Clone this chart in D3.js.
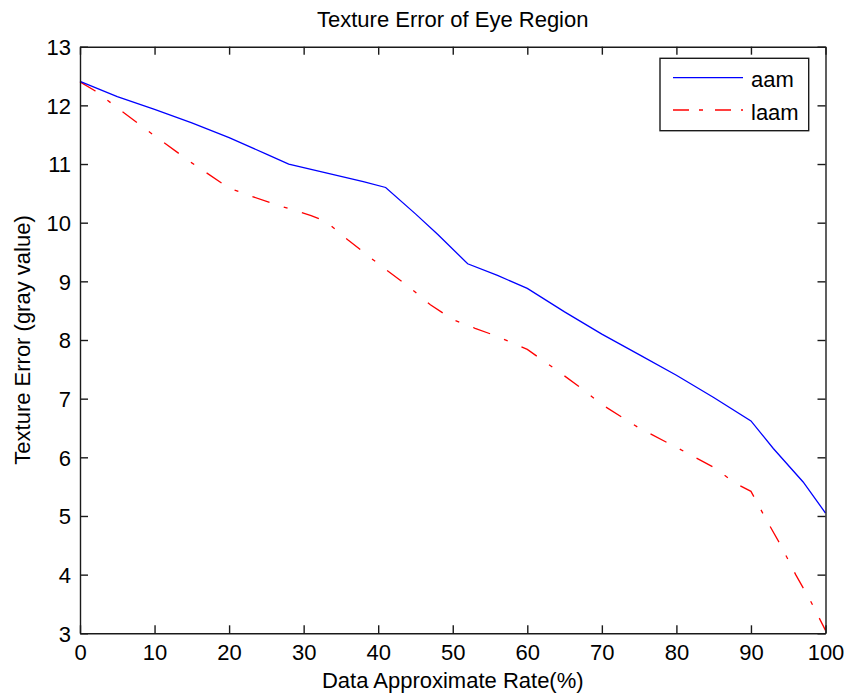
<!DOCTYPE html>
<html>
<head>
<meta charset="utf-8">
<script src="https://cdn.jsdelivr.net/npm/d3@7/dist/d3.min.js"></script>
<style>
  html, body { margin: 0; padding: 0; background: #fff; }
  svg { display: block; }
  text { font-family: "Liberation Sans", Arial, sans-serif; fill: #000; }
</style>
</head>
<body>
<svg id="chart" width="846" height="697"></svg>
<script>
// Texture error of the eye region vs. data approximate rate
const aamRate  = [0, 5, 10, 15, 20, 25, 28, 33, 38, 41, 45, 48, 52, 56, 60, 65, 70, 75, 80, 85, 90, 93, 97, 100];
const aamError = [12.41, 12.15, 11.93, 11.70, 11.45, 11.17, 11.0, 10.85, 10.70, 10.6, 10.15, 9.8, 9.3, 9.1, 8.88, 8.48, 8.1, 7.75, 7.4, 7.02, 6.62, 6.15, 5.58, 5.05];

const laamRate  = [0, 2, 5, 10, 15, 20, 23, 27, 31, 33, 36, 40, 44, 47, 50, 53, 56, 60, 64, 67, 70, 75, 80, 85, 88, 90, 92, 94, 96, 98, 100];
const laamError = [12.4, 12.25, 11.96, 11.48, 11.02, 10.59, 10.45, 10.28, 10.12, 10.02, 9.7, 9.3, 8.92, 8.6, 8.35, 8.2, 8.06, 7.84, 7.48, 7.2, 6.9, 6.5, 6.17, 5.83, 5.55, 5.42, 4.95, 4.5, 4.0, 3.55, 3.05];

const xTicks = [0, 10, 20, 30, 40, 50, 60, 70, 80, 90, 100];
const yTicks = [3, 4, 5, 6, 7, 8, 9, 10, 11, 12, 13];

const seriesNames = ["aam", "laam"];
const titleText = "Texture Error of Eye Region";
const xLabelText = "Data Approximate Rate(%)";
const yLabelText = "Texture Error (gray value)";

const svg = d3.select("#chart");
const W = 846, H = 697;
const plotL = 80, plotR = 825.5, plotT = 46.7, plotB = 633.3;
const fontSize = 22;
const tickLen = 8;

svg.append("rect").attr("width", W).attr("height", H).attr("fill", "#fff");

const x = d3.scaleLinear().domain([0, 100]).range([plotL, plotR]);
const y = d3.scaleLinear().domain([3, 13]).range([plotB, plotT]);

const axisColor = "#1a1a1a";

// Data lines
const line = d3.line().x(d => x(d[0])).y(d => y(d[1]));
const aamPts = aamRate.map((r, i) => [r, aamError[i]]);
const laamPts = laamRate.map((r, i) => [r, laamError[i]]);

const plot = svg.append("g");
plot.append("path").datum(laamPts)
  .attr("d", line).attr("fill", "none")
  .attr("stroke", "#ff0000").attr("stroke-width", 1.3)
  .attr("stroke-dasharray", "18,15,4,15");
plot.append("path").datum(aamPts)
  .attr("d", line).attr("fill", "none")
  .attr("stroke", "#0000ff").attr("stroke-width", 1.3);

// Axes: bottom and left with labels, top and right as box ticks, all inward
const fmt = d3.format("d");
const gx = svg.append("g").attr("transform", `translate(0,${plotB})`)
  .call(d3.axisBottom(x).tickValues(xTicks).tickFormat(fmt).tickSizeInner(-tickLen).tickSizeOuter(0).tickPadding(tickLen + 10));
const gy = svg.append("g").attr("transform", `translate(${plotL},0)`)
  .call(d3.axisLeft(y).tickValues(yTicks).tickFormat(fmt).tickSizeInner(-tickLen).tickSizeOuter(0).tickPadding(8));
const gt = svg.append("g").attr("transform", `translate(0,${plotT})`)
  .call(d3.axisTop(x).tickValues(xTicks).tickFormat("").tickSizeInner(-tickLen).tickSizeOuter(0));
const gr = svg.append("g").attr("transform", `translate(${plotR},0)`)
  .call(d3.axisRight(y).tickValues(yTicks).tickFormat("").tickSizeInner(-tickLen).tickSizeOuter(0));

[gx, gy, gt, gr].forEach(g => {
  g.select(".domain").attr("stroke", axisColor).attr("stroke-width", 1.4);
  g.selectAll(".tick line").attr("stroke", axisColor).attr("stroke-width", 1.4);
  g.selectAll(".tick text")
    .style("font-family", '"Liberation Sans", Arial, sans-serif')
    .style("font-size", fontSize + "px")
    .attr("fill", "#000");
});
gx.selectAll(".tick text").attr("dy", null).attr("y", 27);
gy.selectAll(".tick text").attr("dy", "0.36em").attr("x", -9);

// Title and axis labels
svg.append("text")
  .attr("x", (plotL + plotR) / 2).attr("y", 27)
  .attr("text-anchor", "middle").style("font-size", fontSize + "px")
  .text(titleText);
svg.append("text")
  .attr("x", (plotL + plotR) / 2).attr("y", 688)
  .attr("text-anchor", "middle").style("font-size", fontSize + "px")
  .text(xLabelText);
svg.append("text")
  .attr("transform", `translate(30,${(plotT + plotB) / 2}) rotate(-90)`)
  .attr("text-anchor", "middle").style("font-size", fontSize + "px")
  .text(yLabelText);

// Legend
const lg = svg.append("g");
const lgX0 = 660, lgY0 = 58.3, lgW = 148.7, lgH = 72.4;
lg.append("rect")
  .attr("x", lgX0).attr("y", lgY0).attr("width", lgW).attr("height", lgH)
  .attr("fill", "#fff").attr("stroke", axisColor).attr("stroke-width", 1.4);
const legendItems = [
  { name: seriesNames[0], color: "#0000ff", dash: null, cy: 77.7 },
  { name: seriesNames[1], color: "#ff0000", dash: "16,10,4,12", cy: 110 }
];
legendItems.forEach(it => {
  lg.append("line")
    .attr("x1", 673).attr("x2", 743).attr("y1", it.cy).attr("y2", it.cy)
    .attr("stroke", it.color).attr("stroke-width", 1.3)
    .attr("stroke-dasharray", it.dash);
  lg.append("text")
    .attr("x", 751).attr("y", it.cy + 9.6)
    .style("font-size", fontSize + "px")
    .text(it.name);
});
</script>
</body>
</html>
